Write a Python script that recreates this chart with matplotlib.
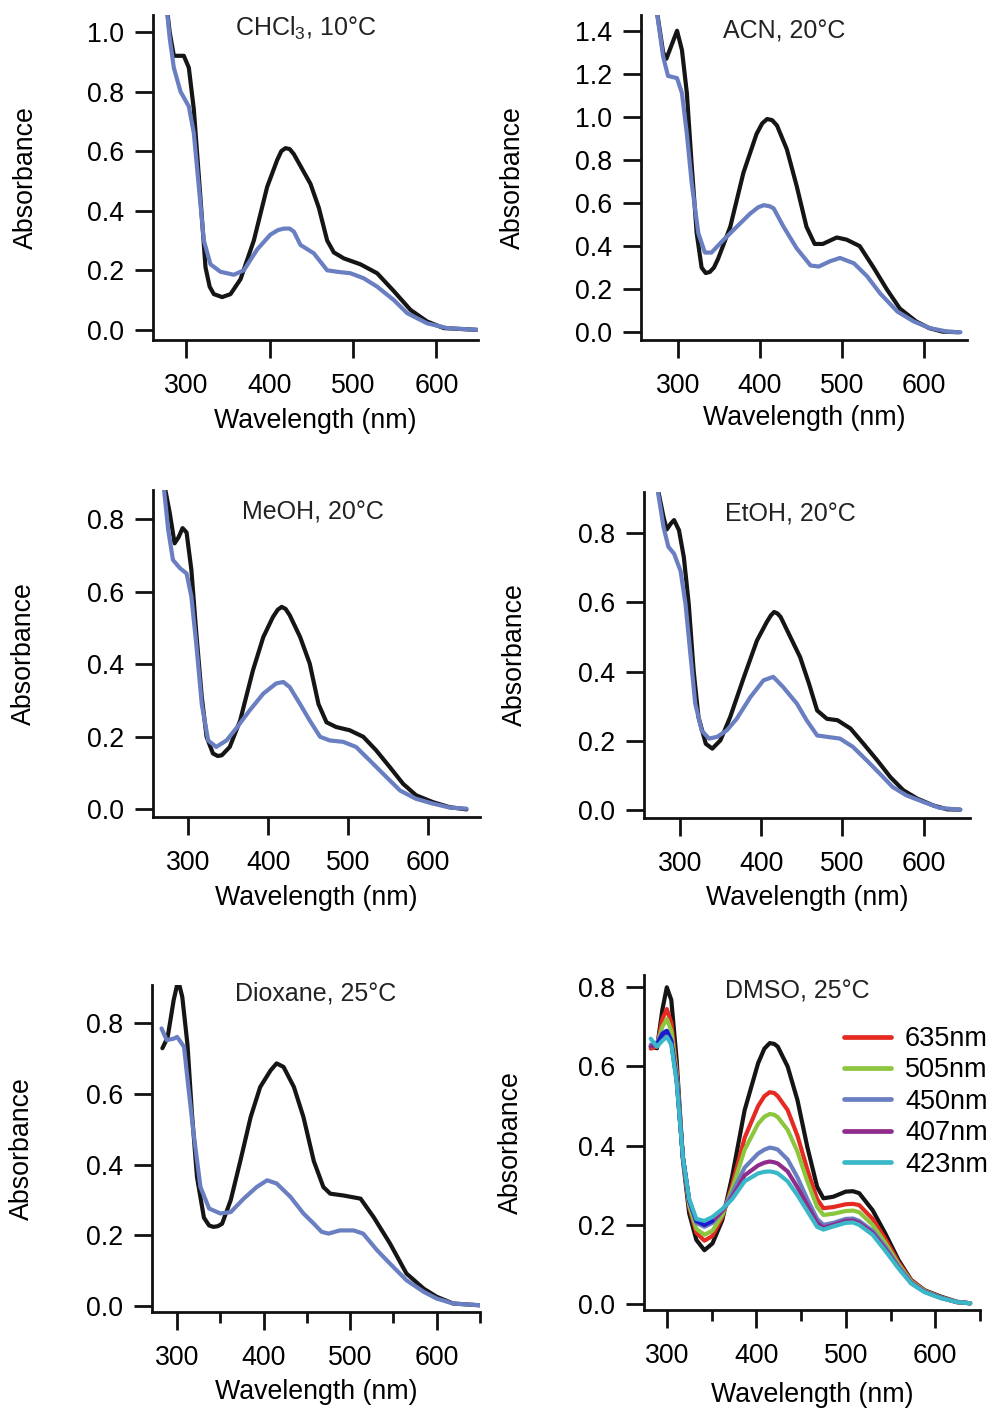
import matplotlib
matplotlib.use("Agg")
import matplotlib.pyplot as plt

plt.rcParams['font.family'] = ['Liberation Sans', 'DejaVu Sans']
plt.rcParams['mathtext.fontset'] = 'custom'
plt.rcParams['mathtext.rm'] = 'Liberation Sans'

BLACK = '#151515'
BLUE = '#6a7fc1'

# ---------------- data ----------------
# CHCl3, 10C
chcl3_wl_black = [275, 280, 285, 297, 303, 309, 317, 323, 328, 333, 343, 353, 365, 381, 397, 409, 414, 419, 424, 429, 437, 449, 459, 469, 477, 489, 509, 529, 549, 569, 589, 609, 649]
chcl3_black = [1.12, 1.0, 0.92, 0.92, 0.88, 0.74, 0.44, 0.21, 0.145, 0.12, 0.11, 0.12, 0.17, 0.30, 0.48, 0.57, 0.60, 0.61, 0.607, 0.59, 0.55, 0.49, 0.41, 0.30, 0.26, 0.24, 0.22, 0.19, 0.13, 0.067, 0.028, 0.006, 0.0]
chcl3_wl_blue = [275, 280, 285, 293, 303, 309, 315, 321, 329, 341, 357, 369, 385, 401, 410, 417, 424, 429, 437, 453, 469, 481, 497, 513, 529, 549, 565, 589, 613, 649]
chcl3_blue = [1.12, 0.98, 0.88, 0.80, 0.75, 0.66, 0.48, 0.30, 0.22, 0.195, 0.185, 0.20, 0.27, 0.32, 0.335, 0.34, 0.34, 0.33, 0.285, 0.257, 0.20, 0.195, 0.19, 0.173, 0.145, 0.10, 0.056, 0.022, 0.006, 0.0]

# ACN, 20C
acn_wl_black = [272, 282, 286, 293, 299, 305, 311, 317, 323, 329, 334, 339, 344, 349, 364, 380, 396, 403, 409, 415, 421, 433, 445, 457, 467, 477, 494, 506, 522, 539, 555, 571, 591, 607, 623, 643]
acn_black = [1.55, 1.30, 1.27, 1.34, 1.40, 1.31, 1.11, 0.77, 0.46, 0.30, 0.275, 0.28, 0.30, 0.34, 0.49, 0.74, 0.92, 0.97, 0.99, 0.985, 0.96, 0.85, 0.68, 0.49, 0.41, 0.41, 0.44, 0.43, 0.40, 0.30, 0.20, 0.11, 0.05, 0.019, 0.003, 0.0]
acn_wl_blue = [272, 282, 288, 299, 305, 311, 317, 325, 333, 341, 356, 372, 388, 398, 405, 412, 417, 429, 445, 462, 472, 486, 498, 515, 531, 547, 568, 588, 608, 629, 645]
acn_blue = [1.55, 1.28, 1.19, 1.18, 1.11, 0.92, 0.69, 0.46, 0.37, 0.37, 0.43, 0.49, 0.55, 0.58, 0.59, 0.585, 0.575, 0.49, 0.39, 0.31, 0.305, 0.33, 0.345, 0.32, 0.26, 0.18, 0.096, 0.05, 0.019, 0.003, 0.0]

# MeOH, 20C
meoh_wl_black = [268, 277, 283, 288, 293, 298, 304, 310, 317, 323, 331, 337, 342, 352, 365, 381, 394, 406, 412, 417, 422, 427, 440, 452, 463, 473, 485, 502, 519, 535, 552, 569, 585, 606, 627, 648]
meoh_black = [0.92, 0.816, 0.733, 0.75, 0.775, 0.763, 0.66, 0.49, 0.31, 0.20, 0.154, 0.147, 0.149, 0.172, 0.245, 0.383, 0.475, 0.53, 0.55, 0.558, 0.552, 0.535, 0.475, 0.402, 0.29, 0.24, 0.227, 0.218, 0.20, 0.163, 0.117, 0.07, 0.039, 0.02, 0.006, 0.0]
meoh_wl_blue = [268, 275, 281, 290, 298, 304, 310, 317, 325, 335, 348, 360, 377, 394, 410, 419, 427, 440, 452, 465, 477, 494, 510, 527, 548, 565, 585, 606, 627, 648]
meoh_blue = [0.92, 0.77, 0.687, 0.664, 0.65, 0.586, 0.458, 0.29, 0.19, 0.172, 0.19, 0.223, 0.273, 0.319, 0.347, 0.351, 0.337, 0.29, 0.245, 0.20, 0.19, 0.186, 0.172, 0.135, 0.089, 0.052, 0.029, 0.016, 0.005, 0.002]

# EtOH, 20C
etoh_wl_black = [271, 280, 284, 289, 293, 299, 305, 311, 317, 323, 332, 340, 350, 362, 379, 395, 407, 412, 416, 420, 424, 436, 448, 459, 469, 481, 494, 510, 526, 543, 559, 575, 592, 612, 629, 645]
etoh_black = [0.95, 0.846, 0.81, 0.827, 0.837, 0.808, 0.73, 0.596, 0.404, 0.269, 0.192, 0.178, 0.202, 0.269, 0.385, 0.49, 0.543, 0.562, 0.572, 0.568, 0.558, 0.50, 0.442, 0.365, 0.288, 0.264, 0.26, 0.236, 0.192, 0.144, 0.096, 0.058, 0.034, 0.014, 0.003, 0.002]
etoh_wl_blue = [271, 280, 286, 293, 301, 307, 313, 319, 327, 336, 346, 358, 370, 387, 403, 415, 427, 444, 456, 469, 481, 497, 513, 530, 546, 562, 579, 600, 620, 645]
etoh_blue = [0.95, 0.817, 0.76, 0.74, 0.69, 0.596, 0.452, 0.308, 0.23, 0.207, 0.212, 0.231, 0.264, 0.327, 0.375, 0.385, 0.356, 0.308, 0.26, 0.216, 0.212, 0.207, 0.183, 0.144, 0.106, 0.067, 0.043, 0.024, 0.007, 0.002]

# Dioxane, 25C
diox_wl_black = [283, 289, 293, 296, 300, 303, 306, 312, 317, 323, 331, 337, 342, 347, 352, 362, 373, 385, 396, 408, 415, 423, 435, 446, 458, 469, 477, 492, 512, 527, 546, 565, 585, 600, 619, 650]
diox_black = [0.73, 0.76, 0.82, 0.866, 0.909, 0.905, 0.875, 0.74, 0.55, 0.365, 0.25, 0.228, 0.224, 0.226, 0.233, 0.30, 0.41, 0.535, 0.62, 0.667, 0.687, 0.677, 0.62, 0.535, 0.41, 0.337, 0.318, 0.313, 0.304, 0.252, 0.177, 0.092, 0.049, 0.026, 0.007, 0.002]
diox_wl_blue = [282, 288, 296, 300, 308, 313, 319, 327, 337, 350, 362, 377, 392, 404, 415, 431, 446, 458, 467, 475, 488, 504, 515, 531, 546, 565, 585, 600, 619, 650]
diox_blue = [0.786, 0.753, 0.757, 0.762, 0.734, 0.62, 0.49, 0.337, 0.276, 0.262, 0.266, 0.304, 0.337, 0.356, 0.347, 0.309, 0.262, 0.233, 0.21, 0.205, 0.214, 0.214, 0.205, 0.158, 0.12, 0.073, 0.04, 0.021, 0.007, 0.002]

# DMSO, 25C
dmso_wl = [282, 289, 295, 300, 305, 311, 318, 325, 333, 342, 351, 362, 373, 387, 402, 409, 415, 420, 424, 435, 446, 457, 468, 475, 486, 500, 508, 515, 530, 544, 559, 573, 588, 606, 624, 639]
dmso_black = [0.65, 0.646, 0.743, 0.80, 0.768, 0.616, 0.364, 0.229, 0.162, 0.136, 0.153, 0.212, 0.322, 0.49, 0.608, 0.645, 0.659, 0.657, 0.65, 0.60, 0.515, 0.397, 0.296, 0.267, 0.271, 0.284, 0.285, 0.28, 0.237, 0.179, 0.111, 0.061, 0.035, 0.019, 0.006, 0.002]
dmso_635 = [0.645, 0.65, 0.72, 0.745, 0.71, 0.59, 0.37, 0.245, 0.18, 0.16, 0.172, 0.22, 0.30, 0.42, 0.50, 0.525, 0.535, 0.533, 0.525, 0.49, 0.425, 0.34, 0.265, 0.242, 0.245, 0.252, 0.253, 0.25, 0.215, 0.165, 0.105, 0.06, 0.034, 0.017, 0.005, 0.002]
dmso_505 = [0.65, 0.655, 0.70, 0.72, 0.69, 0.58, 0.37, 0.25, 0.19, 0.175, 0.185, 0.225, 0.29, 0.39, 0.455, 0.473, 0.48, 0.478, 0.472, 0.44, 0.385, 0.31, 0.245, 0.225, 0.228, 0.235, 0.236, 0.232, 0.20, 0.155, 0.10, 0.057, 0.033, 0.017, 0.005, 0.002]
dmso_450 = [0.655, 0.66, 0.685, 0.69, 0.665, 0.57, 0.37, 0.26, 0.205, 0.195, 0.205, 0.235, 0.28, 0.345, 0.38, 0.39, 0.395, 0.393, 0.39, 0.365, 0.32, 0.265, 0.215, 0.20, 0.205, 0.215, 0.216, 0.21, 0.185, 0.145, 0.095, 0.055, 0.032, 0.016, 0.005, 0.002]
dmso_407 = [0.65, 0.655, 0.675, 0.68, 0.66, 0.565, 0.37, 0.262, 0.21, 0.20, 0.21, 0.235, 0.27, 0.325, 0.35, 0.357, 0.36, 0.358, 0.355, 0.335, 0.295, 0.25, 0.205, 0.193, 0.20, 0.21, 0.211, 0.205, 0.18, 0.14, 0.092, 0.053, 0.031, 0.016, 0.005, 0.002]
dmso_423 = [0.67, 0.65, 0.665, 0.675, 0.655, 0.56, 0.37, 0.265, 0.215, 0.21, 0.22, 0.24, 0.265, 0.31, 0.33, 0.334, 0.335, 0.333, 0.33, 0.31, 0.275, 0.235, 0.195, 0.188, 0.196, 0.205, 0.206, 0.20, 0.175, 0.135, 0.09, 0.052, 0.03, 0.015, 0.005, 0.002]
dmso_extra_wl = [289, 295, 300, 305, 311, 318, 325, 333, 342, 351]
dmso_extra = [0.655, 0.682, 0.69, 0.665, 0.567, 0.37, 0.262, 0.21, 0.20, 0.21]
dmso_labels = ['635nm', '505nm', '450nm', '407nm', '423nm']
dmso_colors = ['#e52a22', '#8cc63e', '#6a7fc1', '#8f2b8b', '#3bb8c8']

titles = ['CHCl$_\\mathregular{3}$, 10°C', 'ACN, 20°C', 'MeOH, 20°C', 'EtOH, 20°C', 'Dioxane, 25°C', 'DMSO, 25°C']

W, H = 994, 1410
fig = plt.figure(figsize=(W / 100, H / 100), dpi=100)


def make_ax(left, right, top, bottom):
    return fig.add_axes([left / W, 1 - bottom / H, (right - left) / W, (bottom - top) / H])


FS = 19.3


def style(ax, xlim, ylim, yticks, minor, ylab_x, xlab_y, left, right, top, bottom):
    ax.set_xlim(*xlim)
    ax.set_ylim(*ylim)
    for s in ['top', 'right']:
        ax.spines[s].set_visible(False)
    for s in ['left', 'bottom']:
        ax.spines[s].set_linewidth(2.0)
        ax.spines[s].set_color('#111111')
    ax.set_xticks([300, 400, 500, 600])
    ax.set_yticks(yticks)
    ax.set_yticklabels([f'{v:.1f}' for v in yticks])
    if minor:
        ax.set_xticks([350, 450, 550, 650], minor=True)
        ax.tick_params(axis='x', which='minor', direction='out', length=8, width=2.0, color='#111111')
    ax.tick_params(axis='both', which='major', direction='out', length=13, width=2.0,
                   labelsize=FS, color='#111111')
    ax.tick_params(axis='x', pad=11)
    ax.tick_params(axis='y', pad=8)
    ax.set_xlabel('Wavelength (nm)', fontsize=FS)
    ax.set_ylabel('Absorbance', fontsize=FS)
    ax.xaxis.label.set_va('center')
    ax.yaxis.label.set_va('center')
    ax.xaxis.set_label_coords(((left + right) / 2) / W, 1 - xlab_y / H, transform=fig.transFigure)
    ax.yaxis.set_label_coords(ylab_x / W, 1 - ((top + bottom) / 2) / H, transform=fig.transFigure)


def title(ax, text, fx, fy):
    ax.text(fx, fy, text, transform=ax.transAxes, ha='center', va='center', fontsize=18, color='#222222')


LW = 3.0
KW = dict(lw=LW, solid_joinstyle='round', solid_capstyle='round')

# Panel 1
g = (153, 478, 15, 340)
ax = make_ax(*g)
ax.plot(chcl3_wl_black, chcl3_black, color=BLACK, **KW)
ax.plot(chcl3_wl_blue, chcl3_blue, color=BLUE, **KW)
style(ax, (260, 650), (-0.034, 1.057), [0.0, 0.2, 0.4, 0.6, 0.8, 1.0], False, 26, 421, *g)
title(ax, titles[0], 0.47, 0.96)

# Panel 2
g = (641, 967, 15, 340)
ax = make_ax(*g)
ax.plot(acn_wl_black, acn_black, color=BLACK, **KW)
ax.plot(acn_wl_blue, acn_blue, color=BLUE, **KW)
style(ax, (255, 653), (-0.036, 1.473), [0.0, 0.2, 0.4, 0.6, 0.8, 1.0, 1.2, 1.4], False, 513, 418, *g)
title(ax, titles[1], 0.44, 0.95)

# Panel 3
g = (153, 480, 490, 817)
ax = make_ax(*g)
ax.plot(meoh_wl_black, meoh_black, color=BLACK, **KW)
ax.plot(meoh_wl_blue, meoh_blue, color=BLUE, **KW)
style(ax, (256, 665), (-0.021, 0.88), [0.0, 0.2, 0.4, 0.6, 0.8], False, 24, 898, *g)
title(ax, titles[2], 0.49, 0.93)

# Panel 4
g = (644, 970, 492, 818)
ax = make_ax(*g)
ax.plot(etoh_wl_black, etoh_black, color=BLACK, **KW)
ax.plot(etoh_wl_blue, etoh_blue, color=BLUE, **KW)
style(ax, (256, 657), (-0.022, 0.918), [0.0, 0.2, 0.4, 0.6, 0.8], False, 515, 898, *g)
title(ax, titles[3], 0.45, 0.93)

# Panel 5
g = (152, 480, 985, 1312)
ax = make_ax(*g)
ax.plot(diox_wl_black, diox_black, color=BLACK, **KW)
ax.plot(diox_wl_blue, diox_blue, color=BLUE, **KW)
style(ax, (271, 650), (-0.017, 0.909), [0.0, 0.2, 0.4, 0.6, 0.8], True, 22, 1392, *g)
title(ax, titles[4], 0.50, 0.975)

# Panel 6
g = (644, 980, 975, 1310)
ax = make_ax(*g)
ax.plot(dmso_wl, dmso_black, color=BLACK, **KW)
series = [dmso_635, dmso_505, dmso_450, dmso_407]
handles = []
for ys, lab, c in zip(series, dmso_labels[:4], dmso_colors[:4]):
    h, = ax.plot(dmso_wl, ys, color=c, label=lab, **KW)
    handles.append(h)
ax.plot(dmso_extra_wl, dmso_extra, color='#1a1ad0', **KW)
h, = ax.plot(dmso_wl, dmso_423, color=dmso_colors[4], label=dmso_labels[4], **KW)
handles.append(h)
style(ax, (274.5, 643), (-0.015, 0.831), [0.0, 0.2, 0.4, 0.6, 0.8], True, 511, 1395, *g)
title(ax, titles[5], 0.455, 0.95)
leg = ax.legend(handles=handles, loc='upper left', bbox_to_anchor=(844 / W, 1 - 1026 / H),
                bbox_transform=fig.transFigure, frameon=False, fontsize=19.5,
                handlelength=1.75, handletextpad=0.5, labelspacing=0.2,
                borderpad=0, borderaxespad=0)
for line in leg.get_lines():
    line.set_linewidth(3.4)

fig.savefig('out.png', dpi=100)
